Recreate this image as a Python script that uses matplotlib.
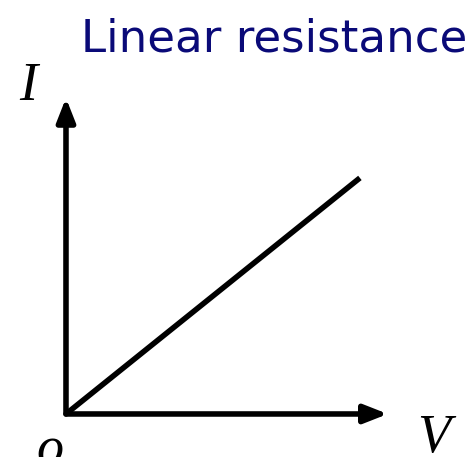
import numpy as np
import matplotlib.pyplot as plt

# I-V data of a linear resistance
volts = [0, 10]
amps = [0, 8]
x_axis_end = 10.95
y_axis_end = 10.71

fig = plt.figure(figsize=(4.76, 4.57), dpi=100)
ax = fig.add_axes([0, 0, 1, 1])
ax.set_xlim(-2.245, 13.95)
ax.set_ylim(-1.458, 14.03)
ax.axis('off')

arrow = dict(arrowstyle='-|>,head_length=1.4,head_width=0.55', lw=4.0,
             color='black', shrinkA=0, shrinkB=0)
ax.annotate('', xy=(x_axis_end, 0), xytext=(0, 0), arrowprops=arrow)
ax.annotate('', xy=(0, y_axis_end), xytext=(0, 0), arrowprops=arrow)

ax.plot(volts, amps, color='black', lw=4.0, solid_capstyle='butt')

serif = dict(family='Liberation Serif', style='italic', fontsize=39)
ax.text(-1.3, 11.1, 'I', ha='center', va='center', **serif)
ax.text(12.5, -0.85, 'V', ha='center', va='center', **serif)
ax.text(-0.55, -1.25, 'o', ha='center', va='center', **serif)

fig.text(0.576, 0.915, 'Linear resistance', ha='center', va='center',
         fontsize=32.5, color='#0a0a78', family='DejaVu Sans')

fig.savefig('out.png', dpi=100)
